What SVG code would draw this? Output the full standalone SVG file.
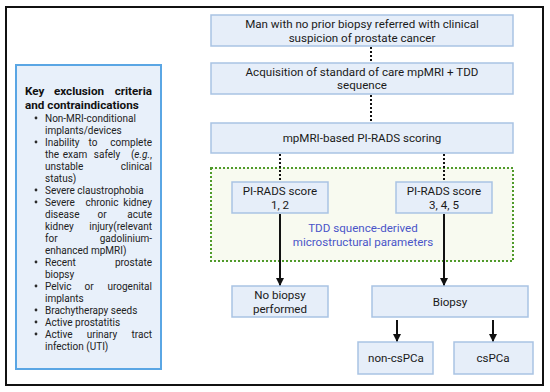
<svg xmlns="http://www.w3.org/2000/svg" width="550" height="392" viewBox="0 0 550 392">
<defs>
<marker id="ah" viewBox="0 0 10 10" refX="10" refY="5" markerWidth="8" markerHeight="8" markerUnits="userSpaceOnUse" orient="auto"><path d="M0,0 L10,5 L0,10 z" fill="#111"/></marker>
<style>
.box{fill:#e6eef9;stroke:#a9c3e3;stroke-width:1.5}
.t{font-family:Roboto,"Liberation Sans",sans-serif;font-size:11.6px;fill:#1a1a1a;text-anchor:middle}
.l{font-family:Roboto,"Liberation Sans",sans-serif;font-size:10px;fill:#222}
.e{text-anchor:end}
.m{text-anchor:middle}
.h{font-family:Roboto,"Liberation Sans",sans-serif;font-size:11.7px;font-weight:bold;fill:#111}
.dot{fill:none;stroke:#111;stroke-width:2;stroke-dasharray:2 2}
.sol{fill:none;stroke:#111;stroke-width:2;marker-end:url(#ah)}
</style>
</defs>
<rect x="0" y="0" width="550" height="392" fill="#fff"/>
<rect x="6" y="7" width="537" height="378" fill="none" stroke="#111" stroke-width="2"/>

<g id="criteria">
<rect x="16" y="65" width="145" height="304" fill="#e8f0fa" stroke="#5aa6e4" stroke-width="2"/>
<text class="h" x="25" y="95">Key</text><text class="h m" x="79" y="95">exclusion</text><text class="h e" x="152" y="95">criteria</text>
<text class="h" x="25" y="109">and contraindications</text>
<g fill="#2a2a2a">
<circle cx="36" cy="118" r="1.4"/><circle cx="36" cy="142" r="1.4"/><circle cx="36" cy="190" r="1.4"/><circle cx="36" cy="202" r="1.4"/><circle cx="36" cy="262" r="1.4"/><circle cx="36" cy="286" r="1.4"/><circle cx="36" cy="310" r="1.4"/><circle cx="36" cy="322" r="1.4"/><circle cx="36" cy="334" r="1.4"/>
</g>
<text class="l" x="45" y="121.5">Non-MRI-conditional</text>
<text class="l" x="45" y="133.5">implants/devices</text>
<text class="l" x="45" y="145.5">Inability</text><text class="l m" x="93" y="145.5">to</text><text class="l e" x="152" y="145.5">complete</text>
<text class="l" x="45" y="157.5">the</text><text class="l m" x="75" y="157.5">exam</text><text class="l m" x="107" y="157.5">safely</text><text class="l e" x="152" y="157.5">(<tspan font-style="italic">e.g.</tspan>,</text>
<text class="l" x="45" y="169.5">unstable</text><text class="l e" x="152" y="169.5">clinical</text>
<text class="l" x="45" y="181.5">status)</text>
<text class="l" x="45" y="193.5">Severe claustrophobia</text>
<text class="l" x="45" y="205.5">Severe</text><text class="l m" x="102" y="205.5">chronic</text><text class="l e" x="152" y="205.5">kidney</text>
<text class="l" x="45" y="217.5">disease</text><text class="l m" x="102" y="217.5">or</text><text class="l e" x="152" y="217.5">acute</text>
<text class="l" x="45" y="229.5">kidney</text><text class="l e" x="152" y="229.5">injury(relevant</text>
<text class="l" x="45" y="241.5">for</text><text class="l e" x="152" y="241.5">gadolinium-</text>
<text class="l" x="45" y="253.5">enhanced mpMRI)</text>
<text class="l" x="45" y="265.5">Recent</text><text class="l e" x="152" y="265.5">prostate</text>
<text class="l" x="45" y="277.5">biopsy</text>
<text class="l" x="45" y="289.5">Pelvic</text><text class="l m" x="89" y="289.5">or</text><text class="l e" x="152" y="289.5">urogenital</text>
<text class="l" x="45" y="301.5">implants</text>
<text class="l" x="45" y="313.5">Brachytherapy seeds</text>
<text class="l" x="45" y="325.5">Active prostatitis</text>
<text class="l" x="45" y="337.5">Active</text><text class="l m" x="102" y="337.5">urinary</text><text class="l e" x="152" y="337.5">tract</text>
<text class="l" x="45" y="349.5">infection (UTI)</text>
</g>

<g id="tdd-region">
<rect x="211" y="168" width="302" height="93" fill="#f8faf0" stroke="#4f9a2a" stroke-width="2" stroke-dasharray="2 2"/>
<text class="t" x="363" y="232" style="fill:#4a55c8">TDD squence-derived</text>
<text class="t" x="363" y="246" style="fill:#4a55c8">microstructural parameters</text>
</g>

<g id="connectors">
<line class="dot" x1="371" y1="47" x2="371" y2="63"/>
<line class="dot" x1="371" y1="95" x2="371" y2="123"/>
<line class="dot" x1="280" y1="154" x2="280" y2="182"/>
<line class="dot" x1="444" y1="154" x2="444" y2="182"/>
<line class="sol" x1="280" y1="214" x2="280" y2="286"/>
<line class="sol" x1="444" y1="214" x2="444" y2="286"/>
<line class="sol" x1="397" y1="320" x2="397" y2="342"/>
<line class="sol" x1="493" y1="320" x2="493" y2="342"/>
</g>

<g id="referral"><rect class="box" x="211" y="15" width="302" height="31"/>
<text class="t" x="362" y="28">Man with no prior biopsy referred with clinical</text>
<text class="t" x="362" y="41.5">suspicion of prostate cancer</text></g>
<g id="acquisition"><rect class="box" x="211" y="63" width="302" height="31"/>
<text class="t" x="362" y="75.5">Acquisition of standard of care mpMRI + TDD</text>
<text class="t" x="362" y="89">sequence</text></g>
<g id="scoring"><rect class="box" x="211" y="123" width="302" height="30"/>
<text class="t" x="362" y="142">mpMRI-based PI-RADS scoring</text></g>
<g id="pirads12"><rect class="box" x="232" y="182" width="96" height="31"/>
<text class="t" x="280" y="195">PI-RADS score</text>
<text class="t" x="280" y="208.5">1, 2</text></g>
<g id="pirads345"><rect class="box" x="396" y="182" width="96" height="31"/>
<text class="t" x="444" y="195">PI-RADS score</text>
<text class="t" x="444" y="208.5">3, 4, 5</text></g>
<g id="nobiopsy"><rect class="box" x="232" y="286" width="96" height="31"/>
<text class="t" x="280" y="298.5">No biopsy</text>
<text class="t" x="280" y="313">performed</text></g>
<g id="biopsy"><rect class="box" x="372" y="286" width="156" height="31"/>
<text class="t" x="450" y="306">Biopsy</text></g>
<g id="noncspca"><rect class="box" x="358" y="342" width="75" height="32"/>
<text class="t" x="396" y="362">non-csPCa</text></g>
<g id="cspca"><rect class="box" x="454" y="342" width="79" height="32"/>
<text class="t" x="493" y="362">csPCa</text></g>
</svg>
